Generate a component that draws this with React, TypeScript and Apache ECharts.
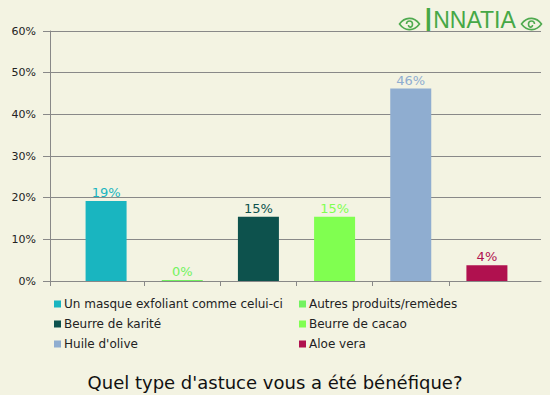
import React, { useEffect, useRef } from "react";
import * as echarts from "echarts";

const categories = [
  "Un masque exfoliant comme celui-ci",
  "Autres produits/remèdes",
  "Beurre de karité",
  "Beurre de cacao",
  "Huile d'olive",
  "Aloe vera",
];
const values = [19.2, 0, 15.4, 15.4, 46.2, 3.8];
const colors = ["#19b5c0", "#72f25f", "#0d524d", "#80ff50", "#8fadd0", "#b0114f"];
const yTicks = [0, 10, 20, 30, 40, 50, 60];
const titleText = "Quel type d'astuce vous a été bénéfique?";

const FONT = "DejaVu Sans, Verdana, sans-serif";
const PAD_LEFT = -0.736;
const PAD_RIGHT = categories.length - 0.29;

export default function App() {
  const ref = useRef<HTMLDivElement>(null);
  useEffect(() => {
    document.body.style.margin = "0";
    const chart = echarts.init(ref.current!, null, { renderer: "svg" });
    echarts.graphic.registerShape(
      "leafL",
      echarts.graphic.extendPath(
        "M0,8 C5,1 14,0 20,8 C14,16 5,15 0,8 Z M7,8 C7,4 13,4 13,8 C13,12 9,12 9,9",
        {}
      )
    );
    const series = categories.map((name, i) => ({
      name,
      type: "bar",
      xAxisIndex: 1,
      yAxisIndex: 1,
      barWidth: 41,
      barGap: "-100%",
      barMinHeight: i === 1 ? 1 : 0,
      itemStyle: { color: colors[i] },
      label: {
        show: true,
        position: "top",
        distance: 2,
        color: colors[i],
        fontFamily: FONT,
        fontSize: 13,
        formatter: (p: any) => Math.round(p.value) + "%",
      },
      data: values.map((v, j) => (j === i ? v : "-")),
    }));
    const boundaries = [PAD_LEFT, ...categories.slice(1).map((_, i) => i + 0.5)];
    const legendCommon = {
      orient: "vertical",
      top: 292,
      itemWidth: 7,
      itemHeight: 7,
      itemGap: 6,
      icon: "rect",
      textStyle: { fontFamily: FONT, fontSize: 12, color: "#222", lineHeight: 14, padding: [0, 0, 0, -2] },
    };
    chart.setOption({
      animation: false,
      backgroundColor: "#f3f3e2",
      textStyle: { fontFamily: FONT },
      title: {
        text: titleText,
        left: "center",
        top: 368,
        textStyle: { fontFamily: FONT, fontSize: 18, fontWeight: "normal", color: "#111" },
      },
      legend: [
        { ...legendCommon, left: 49, data: [categories[0], categories[2], categories[4]] },
        { ...legendCommon, left: 294, data: [categories[1], categories[3], categories[5]] },
      ],
      grid: [
        { left: 50, right: 9, top: 31, bottom: 114 },
        { left: 68, right: 25, top: 31, bottom: 114 },
      ],
      xAxis: [
        {
          gridIndex: 0,
          type: "value",
          min: PAD_LEFT,
          max: PAD_RIGHT,
          axisLine: { show: true, onZero: false, lineStyle: { color: "#888" } },
          axisTick: { show: true, length: 5, lineStyle: { color: "#888" }, customValues: boundaries },
          axisLabel: { show: false, customValues: boundaries },
          splitLine: { show: false },
        },
        {
          gridIndex: 1,
          type: "category",
          data: categories,
          axisLine: { show: false },
          axisTick: { show: false },
          axisLabel: { show: false },
        },
      ],
      yAxis: [
        {
          gridIndex: 0,
          type: "value",
          min: yTicks[0],
          max: yTicks[yTicks.length - 1],
          interval: 10,
          axisLine: { show: true, onZero: false, lineStyle: { color: "#888" } },
          axisTick: { show: true, length: 7, lineStyle: { color: "#888" } },
          axisLabel: { formatter: "{value}%", fontFamily: FONT, fontSize: 11, color: "#222", margin: 14 },
          splitLine: { show: true, lineStyle: { color: "#888" } },
        },
        {
          gridIndex: 1,
          type: "value",
          min: yTicks[0],
          max: yTicks[yTicks.length - 1],
          show: false,
        },
      ],
      graphic: [
        {
          type: "group",
          left: 397,
          top: 2,
          children: [
            { type: "leafL", x: 0, y: 14, style: { fill: "none", stroke: "#4faa4f", lineWidth: 1.6 } },
            {
              type: "text",
              x: 24,
              y: 0,
              style: {
                text: "{a|I}{b|NNATIA}",
                rich: {
                  a: { fontFamily: "Liberation Sans, sans-serif", fontSize: 35, fill: "#46a846" },
                  b: { fontFamily: "Liberation Sans, sans-serif", fontSize: 23, fill: "#46a846" },
                },
              },
            },
            { type: "leafL", x: 122, y: 14, scaleX: -1, originX: 10, style: { fill: "none", stroke: "#4faa4f", lineWidth: 1.6 } },
          ],
        },
      ],
      series,
    });
    return () => chart.dispose();
  }, []);
  return <div ref={ref} style={{ width: 550, height: 395 }} />;
}
